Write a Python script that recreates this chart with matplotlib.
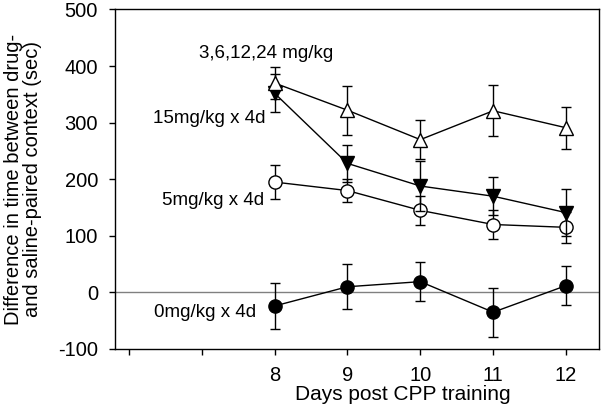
import matplotlib
matplotlib.use("Agg")
import matplotlib.pyplot as plt

plt.rcParams['font.family'] = ['Liberation Sans', 'DejaVu Sans']
plt.rcParams['axes.unicode_minus'] = False

# data
days = [8, 9, 10, 11, 12]

dose_3_24 = [370, 322, 270, 321, 291]
dose_3_24_err = [28, 43, 34, 45, 37]

dose_15 = [352, 228, 188, 170, 141]
dose_15_err = [34, 32, 45, 34, 41]

dose_5 = [195, 180, 145, 120, 115]
dose_5_err = [30, 21, 26, 25, 27]

dose_0 = [-24, 10, 19, -35, 12]
dose_0_err = [40, 40, 35, 43, 35]

x_ticks = [6, 7, 8, 9, 10, 11, 12]
x_tick_labels = ['', '', '8', '9', '10', '11', '12']
y_ticks = [-100, 0, 100, 200, 300, 400, 500]

labels = ['0mg/kg x 4d', '5mg/kg x 4d', '15mg/kg x 4d', '3,6,12,24 mg/kg']


def draw_series(ax, x, y, err, marker, face, z):
    ax.errorbar(x, y, yerr=err, fmt='none', ecolor='black', elinewidth=1.0,
                capsize=3.6, capthick=1.0, zorder=z)
    ax.plot(x, y, color='black', lw=1.0, marker=marker, markersize=9.5,
            markerfacecolor=face, markeredgecolor='black', markeredgewidth=1.0,
            zorder=z + 0.5)


fig = plt.figure(figsize=(6.01, 4.13), dpi=100)
ax = fig.add_axes([0.191, 0.155, 0.806, 0.822])

ax.axhline(0, color='#808080', lw=1.0, zorder=1)

draw_series(ax, days, dose_0, dose_0_err, 'o', 'black', 2)
draw_series(ax, days, dose_5, dose_5_err, 'o', 'white', 3)
draw_series(ax, days, dose_15, dose_15_err, 'v', 'black', 4)
draw_series(ax, days, dose_3_24, dose_3_24_err, '^', 'white', 5)

# series labels
ax.text(7.74, -44, labels[0], ha='right', va='baseline', fontsize=13.5)
ax.text(7.85, 154, labels[1], ha='right', va='baseline', fontsize=13.5)
ax.text(7.87, 300, labels[2], ha='right', va='baseline', fontsize=13.5)
ax.text(7.89, 415, labels[3], ha='center', va='baseline', fontsize=13.5)

ax.set_xlim(5.807, 12.455)
ax.set_ylim(-100, 500)
ax.set_xticks(x_ticks)
ax.set_xticklabels(x_tick_labels)
ax.set_yticks(y_ticks)
ax.tick_params(direction='out', length=4, width=1.0, labelsize=14.5, pad=8)

for sp in ax.spines.values():
    sp.set_linewidth(1.0)

ax.set_xlabel('Days post CPP training', fontsize=15)
ax.xaxis.set_label_coords(0.595, -0.105)
ax.set_ylabel('Difference in time between drug-\nand saline-paired context (sec)',
              fontsize=14.5, linespacing=1.0)
ax.yaxis.set_label_coords(-0.151, 0.5)

fig.savefig('out.png', dpi=100)
